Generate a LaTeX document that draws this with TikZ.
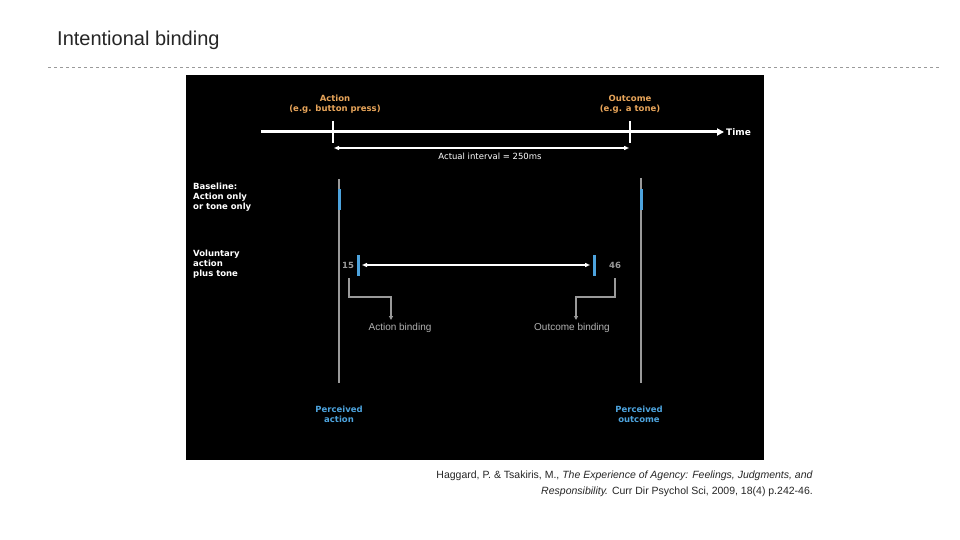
\documentclass[tikz,border=0pt]{standalone}
\usepackage{fontspec}
\setmainfont{Liberation Sans}
\newfontfamily\dv{DejaVu Sans}
\usetikzlibrary{arrows.meta}
\definecolor{org}{HTML}{E8A55A}
\definecolor{bl}{HTML}{4DA3DD}
\definecolor{gr}{HTML}{9A9A9A}
\begin{document}
\begin{tikzpicture}[x=1pt,y=-1pt,
  lab/.style={inner sep=0pt,font=\dv\bfseries\fontsize{8.5}{10}\selectfont,align=left},
  olab/.style={lab,text=org,align=center},
  blab/.style={lab,text=bl,align=center},
  wlab/.style={lab,text=white},
  vline/.style={draw=gr,line width=1.5pt},
  bar/.style={draw=bl,line width=3pt},
  tick/.style={draw=white,line width=2.5pt}]
\useasboundingbox (0,0) rectangle (960,540);
\fill[white] (0,0) rectangle (960,540);
\node[anchor=west,inner sep=0pt,font=\fontsize{20}{24}\selectfont,text=black!85] (title) at (57,40) {Intentional binding};
\coordinate (d1) at (48,67); \coordinate (d2) at (940,67);
\draw[gr,dashed,line width=0.5pt] (d1) -- (d2);
\fill[black] (186,75) rectangle (764,460);
% time axis
\coordinate (t0) at (261,132); \coordinate (t1) at (724,132);
\draw[white,line width=3pt,-{Triangle[length=7pt,width=7pt]}] (t0) -- (t1);
\node[wlab,anchor=west,font=\dv\bfseries\fontsize{9}{10}\selectfont] (time) at (726,132) {Time};
\draw[tick] (333,121) -- (333,143);
\draw[tick] (630,121) -- (630,143);
\node[olab] (act) at (335,104) {Action\\(e.g. button press)};
\node[olab] (out) at (630,104) {Outcome\\(e.g. a tone)};
\coordinate (i0) at (334,148); \coordinate (i1) at (629,148);
\draw[white,line width=1.5pt,{Triangle[length=5pt,width=4pt]}-{Triangle[length=5pt,width=4pt]}] (i0) -- (i1);
\node[wlab,font=\dv\fontsize{8.5}{10}\selectfont] (int) at (490,156) {Actual interval = 250ms};
\node[wlab,anchor=west] (base) at (193,197) {Baseline:\\Action only\\or tone only};
\node[wlab,anchor=west] (vol) at (193,264) {Voluntary\\action\\plus tone};
% grey lines
\draw[vline] (339,179) -- (339,383);
\draw[vline] (641,178) -- (641,383);
\draw[bar] (339,189) -- (339,210);
\draw[bar] (641,189) -- (641,210);
\draw[bar] (358,255) -- (358,276);
\draw[bar] (594,255) -- (594,276);
\coordinate (p0) at (362,265); \coordinate (p1) at (590,265);
\draw[white,line width=1.5pt,{Triangle[length=5pt,width=4pt]}-{Triangle[length=5pt,width=4pt]}] (p0) -- (p1);
\node[lab,text=gr] (n15) at (348,265) {15};
\node[lab,text=gr] (n46) at (615,265) {46};
\coordinate (ab) at (391,320); \coordinate (ob) at (576,320);
\draw[gr,line width=1.2pt,-{Triangle[length=4pt,width=4pt]}] (349,278) |- (391,297) -- (ab);
\draw[gr,line width=1.2pt,-{Triangle[length=4pt,width=4pt]}] (615,278) |- (576,297) -- (ob);
\node[inner sep=0pt,text=gray!60!white,font=\fontsize{10}{12}\selectfont] (abl) at (400,328) {Action binding};
\node[inner sep=0pt,text=gray!60!white,font=\fontsize{10}{12}\selectfont] (obl) at (572,328) {Outcome binding};
\node[blab] (pa) at (339,414) {Perceived\\action};
\node[blab] (po) at (639,414) {Perceived\\outcome};
\node[inner sep=0pt,anchor=north east,align=right,text=black!85,font=\fontsize{10.5}{16}\selectfont] (cite) at (813,471) {Haggard, P. \& Tsakiris, M., \textit{The Experience of Agency: Feelings, Judgments, and}\\\textit{Responsibility.} Curr Dir Psychol Sci, 2009, 18(4) p.242-46.};
\end{tikzpicture}
\end{document}
